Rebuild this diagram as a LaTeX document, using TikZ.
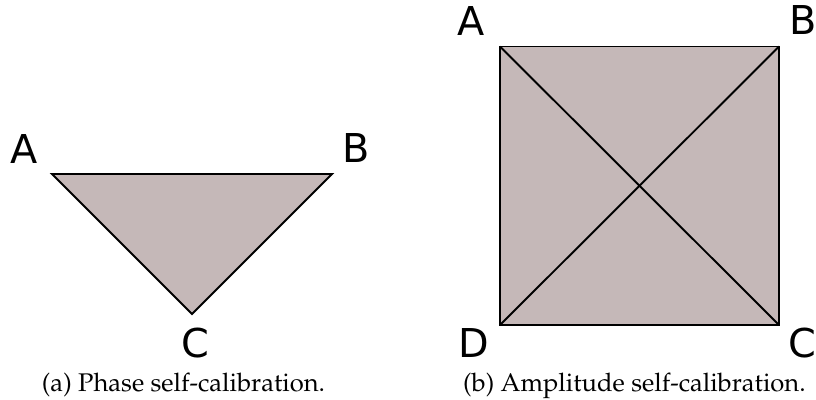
\documentclass[tikz,border=0pt]{standalone}
\usepackage{fontspec}
\usepackage[T1,TU]{fontenc}
\newfontfamily\labelfont{DejaVu Sans}
\newcommand{\capfont}{\fontencoding{T1}\fontfamily{ppl}\fontsize{11.3}{13.5}\selectfont}
\definecolor{patch}{RGB}{197,184,184}
\tikzset{
  lbl/.style={inner sep=0pt, font=\labelfont\fontsize{17.6}{20}\selectfont},
  captext/.style={inner sep=0pt, anchor=base, font=\capfont},
  edgeline/.style={line width=0.85pt, line join=miter, black},
}
\begin{document}
\begin{tikzpicture}[x=0.4425pt, y=-0.4425pt]
\useasboundingbox (0,0) rectangle (816,399);
% (a) triangle
\coordinate (tA) at (52,174);
\coordinate (tB) at (332,174);
\coordinate (tC) at (192,314);
\fill[patch] (tA) -- (tB) -- (tC) -- cycle;
\draw[edgeline] (tA) -- (tB) -- (tC) -- cycle;
\node[lbl] (lA) at (24.5,148.5) {A};
\node[lbl] (lB) at (356.5,148) {B};
\node[lbl] (lC) at (195,343) {C};
% (b) square
\coordinate (sA) at (500,46.5);
\coordinate (sB) at (779,46.5);
\coordinate (sC) at (779,325);
\coordinate (sD) at (500,325);
\fill[patch] (sA) -- (sB) -- (sC) -- (sD) -- cycle;
\draw[edgeline] (sA) -- (sB) -- (sC) -- (sD) -- cycle;
\draw[edgeline] (sA) -- (sC);
\draw[edgeline] (sB) -- (sD);
\node[lbl] (qA) at (471.5,21) {A};
\node[lbl] (qB) at (803.5,20.5) {B};
\node[lbl] (qC) at (802,343) {C};
\node[lbl] (qD) at (473.5,342.5) {D};
% captions
\node[captext] (capa) at (183.5,391) {(a) Phase self-calibration.};
\node[captext] (capb) at (634.4,391) {(b) Amplitude self-calibration.};
\end{tikzpicture}
\end{document}
